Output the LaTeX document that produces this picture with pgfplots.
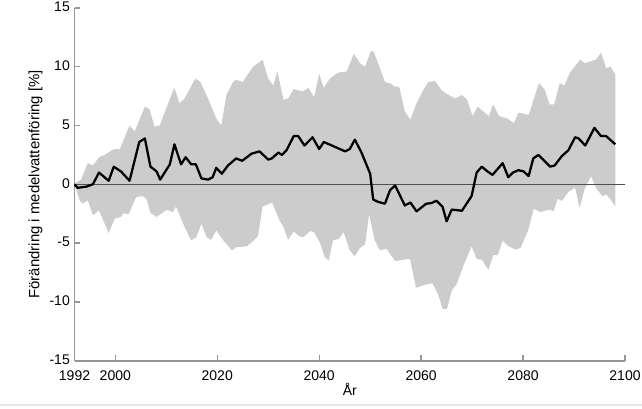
\documentclass[border=0pt]{standalone}
\usepackage{fontspec}
\setmainfont{Liberation Sans}
\usepackage{pgfplots}
\pgfplotsset{compat=1.18}
\usepgfplotslibrary{fillbetween}
\definecolor{bandgray}{RGB}{204,204,204}
\definecolor{axgray}{RGB}{150,150,150}
\definecolor{zerogray}{RGB}{80,80,80}
\begin{document}
\begin{tikzpicture}
\begin{axis}[
  scale only axis,
  width=412.9pt, height=264.5pt,
  xmin=1992, xmax=2100, ymin=-15, ymax=15,
  axis x line*=bottom, axis y line*=left,
  axis line style={draw=axgray, line width=1.4pt, -},
  tick style={draw=axgray, line width=1pt},
  tick align=inside,
  major tick length=4pt,
  xtick={1992,2000,2020,2040,2060,2080,2100},
  xticklabels={1992,2000,2020,2040,2060,2080,2100},
  ytick={-15,-10,-5,0,5,10,15},
  yticklabels={-15,-10,-5,0,5,10,15},
  ticklabel style={font=\fontsize{10.5}{12}\selectfont, text=black},
  xticklabel style={yshift=-4pt},
  yticklabel style={yshift=0.8pt},
  xlabel={År},
  ylabel={Förändring i medelvattenföring [\%]},
  label style={font=\fontsize{10.5}{12}\selectfont},
  ylabel style={font=\fontsize{11.2}{13}\selectfont, yshift=-1.5pt},
  xlabel style={yshift=5pt},
  clip=false,
]
\addplot[name path=up, draw=none] coordinates {
(1992,0.06) (1993.3,0.4) (1994.6,1.8) (1995.6,1.6) (1996.8,2.3) (1997.9,2.5)
(1999.3,2.9) (1999.9,3.0) (2000.9,3.0) (2002.8,5.0) (2003.8,4.5) (2005.8,6.6)
(2006.7,6.4) (2007.7,4.9) (2008.7,5.0) (2011,7.6) (2011.6,8.2) (2012.6,6.9)
(2013.6,7.3) (2015.7,9.0) (2016.7,8.7) (2018.2,7.3) (2019.8,5.6) (2020.8,5.0)
(2021.8,7.6) (2023.1,8.7) (2023.7,8.9) (2025,8.7) (2027,10.0) (2028.9,10.6)
(2030,9.0) (2031,8.4) (2031.8,9.6) (2033,7.2) (2033.9,7.3) (2035,8.1)
(2036.8,7.9) (2037.9,8.2) (2039,7.4) (2040,9.4) (2040.9,8.2) (2042.1,9.0)
(2043.7,9.5) (2045.4,9.6) (2046.8,11.1) (2048,10.3) (2049,10.0) (2050.1,11.3)
(2050.7,11.3) (2051.8,10.0) (2052.9,8.7) (2053.9,8.6) (2054.9,8.3) (2055.7,8.3)
(2056.8,6.2) (2057.9,5.5) (2059.1,6.9) (2060.4,8.0) (2061.4,8.7) (2062.7,8.8)
(2064,8.0) (2065,7.7) (2066.7,7.3) (2068,7.6) (2069,7.2) (2070.1,5.8)
(2071.1,6.6) (2073.3,5.8) (2074.1,6.8) (2075.3,5.8) (2076.9,5.6) (2078.2,5.2)
(2079.1,6.1) (2081.1,5.9) (2083.1,8.6) (2084.2,8.1) (2085.2,6.8) (2086.1,6.8)
(2087.2,8.6) (2088.1,8.4) (2089.2,9.5) (2091.2,10.6) (2092.1,10.3) (2094.3,10.6)
(2095.3,11.2) (2096.3,9.9) (2097.2,10.0) (2098.1,9.3)
};
\addplot[name path=lo, draw=none] coordinates {
(1992,0) (1993,-1.36) (1993.6,-1.65) (1994.6,-1.36) (1995.6,-2.64) (1996.8,-2.22)
(1998.7,-4.15) (1999.9,-2.93) (2001.1,-2.78) (2001.6,-2.44) (2002.6,-2.56) (2004.1,-1.08)
(2005.4,-1.02) (2006.1,-1.22) (2006.9,-2.44) (2008.1,-2.78) (2010.1,-2.16) (2011.3,-2.36)
(2011.9,-1.88) (2013.6,-3.64) (2014.9,-4.77) (2015.9,-4.49) (2016.9,-3.35) (2017.9,-4.49)
(2018.8,-4.72) (2019.8,-3.92) (2021.2,-4.77) (2022.9,-5.62) (2023.8,-5.34) (2025.8,-5.28)
(2027.1,-4.8) (2028.0,-4.4) (2028.9,-1.88) (2030.8,-1.56) (2032.2,-3.07) (2033,-3.64)
(2033.9,-4.72) (2035,-4.01) (2036.1,-4.43) (2036.9,-4.49) (2038.2,-3.98) (2039,-4.07)
(2040.1,-4.92) (2041.1,-6.2) (2041.9,-6.48) (2042.7,-4.77) (2043.9,-4.63) (2044.8,-4.07)
(2046,-5.62) (2047,-6.14) (2048,-5.4) (2049,-5.12) (2049.8,-2.56) (2050.9,-4.77)
(2051.9,-5.62) (2053.2,-5.48) (2054.9,-6.53) (2057.8,-6.33) (2059,-8.8) (2061,-8.52)
(2062.2,-8.41) (2063.3,-9.32) (2064.2,-10.6) (2065.1,-10.6) (2066,-9.04) (2067,-8.47)
(2068.3,-6.91) (2069.9,-5.28) (2070.9,-6.34) (2071.9,-6.42) (2073.2,-7.27) (2074.2,-5.99)
(2075,-6.05) (2076,-4.77) (2076.9,-5.2) (2078.6,-5.57) (2079.5,-5.4) (2081,-3.92)
(2082.1,-2.07) (2083.4,-2.36) (2085,-2.16) (2086,-2.27) (2086.8,-1.22) (2087.6,-1.42)
(2088.9,-0.65) (2090.2,-0.28) (2091.1,-1.99) (2092.1,-0.37) (2093.3,0.68) (2094.4,-0.37)
(2095.6,-1.02) (2096.3,-0.85) (2097.2,-1.31) (2098.1,-1.88)
};
\addplot[fill=bandgray, draw=none] fill between[of=up and lo];
\addplot[zerogray, line width=0.8pt] coordinates {(1992,0) (2100,0)};
\addplot[black, line width=1.7pt, line join=round] coordinates {
(1992,0) (1992.6,-0.3) (1994.3,-0.2) (1995.6,0.0) (1996.8,1.0) (1998.7,0.3)
(1999.7,1.5) (2001.1,1.1) (2002.8,0.3) (2004.7,3.6) (2005.8,3.9) (2006.9,1.5)
(2008.1,1.1) (2008.8,0.4) (2010.7,1.7) (2011.6,3.4) (2012.9,1.7) (2013.8,2.3)
(2014.9,1.7) (2015.8,1.7) (2016.9,0.5) (2018.2,0.4) (2019.1,0.6) (2019.8,1.4)
(2020.9,0.9) (2022.1,1.6) (2023.7,2.2) (2024.9,2.0) (2026.7,2.6) (2028.3,2.8)
(2030,2.1) (2030.7,2.2) (2032,2.7) (2032.7,2.5) (2033.6,2.9) (2035,4.1)
(2035.9,4.1) (2037.1,3.3) (2038.7,4.0) (2040,3.0) (2040.9,3.6) (2042.5,3.3)
(2045.1,2.8) (2046,3.0) (2047,3.8) (2048.3,2.7) (2050,0.9) (2050.6,-1.3)
(2051.6,-1.5) (2052.9,-1.65) (2053.9,-0.5) (2054.9,-0.1) (2055.8,-0.9) (2056.8,-1.8)
(2057.9,-1.55) (2059.1,-2.3) (2061,-1.65) (2062,-1.6) (2063,-1.4) (2064.2,-1.9)
(2065,-3.15) (2066,-2.15) (2068,-2.25) (2069.9,-1.0) (2070.9,1.0) (2071.9,1.5)
(2073,1.1) (2074,0.8) (2076,1.8) (2077.1,0.6) (2078,1.0) (2079.1,1.2)
(2080.1,1.1) (2081.1,0.7) (2082,2.2) (2083,2.5) (2085.3,1.5) (2086.2,1.6)
(2087.6,2.4) (2088.9,2.9) (2090.2,4.0) (2090.9,3.9) (2092.2,3.3) (2094,4.8)
(2095.3,4.1) (2096.3,4.1) (2098.1,3.4)
};
\coordinate (O) at (rel axis cs:0,0);
\coordinate (T) at (rel axis cs:1,1);
\end{axis}
\draw[gray!20, line width=1.2pt] ([shift={(-55.9pt,-33.4pt)}]O) -- ([shift={(425.6pt,-33.4pt)}]O);
\pgfresetboundingbox
\path[use as bounding box] ([shift={(-55.9pt,-36.2pt)}]O) rectangle ([shift={(12.75pt,6pt)}]T);
\end{tikzpicture}
\end{document}
